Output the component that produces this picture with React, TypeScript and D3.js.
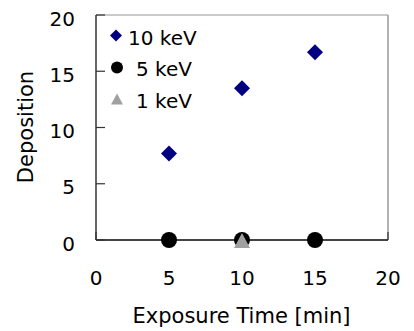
import React from 'react';
import * as d3 from 'd3';

const width = 414;
const height = 331;
const margins = { top: 15, bottom: 91, left: 96, right: 26 };

// exposure time [min]
const times10 = [5, 10, 15];
const dep10 = [7.7, 13.5, 16.7];
const times5 = [5, 10, 15];
const dep5 = [0, 0, 0];
const times1 = [10];
const dep1 = [0];
const ticks = [0, 5, 10, 15, 20];
const legendLabels = ['10 keV', '5 keV', '1 keV'];

const font = '"DejaVu Sans", sans-serif';

const diamond = (x: number, y: number, r: number) =>
  `M${x},${y - r}L${x + r},${y}L${x},${y + r}L${x - r},${y}Z`;
const triangle = (x: number, y: number, w: number, h: number) =>
  `M${x},${y - h / 2}L${x + w / 2},${y + h / 2}L${x - w / 2},${y + h / 2}Z`;

export default function App() {
  const xScale = d3.scaleLinear().domain([0, 20]).range([margins.left, width - margins.right]);
  const yScale = d3.scaleLinear().domain([0, 20]).range([height - margins.bottom, margins.top]);
  const x0 = xScale(0), x1 = xScale(20), y0 = yScale(0), y1 = yScale(20);

  return (
    <svg width={width} height={height} style={{ position: 'absolute', left: 0, top: 0, background: '#fff' }}>
      {/* frame */}
      <line x1={x0} y1={y1} x2={x1} y2={y1} stroke="#b8b8b8" strokeWidth={1.5} />
      <line x1={x1} y1={y1} x2={x1} y2={y0} stroke="#999" strokeWidth={1.5} />
      <line x1={x0} y1={y1} x2={x0} y2={y0} stroke="#000" strokeWidth={1.2} />
      <line x1={x0} y1={y0} x2={x1} y2={y0} stroke="#444" strokeWidth={2} />

      {ticks.map((t) => (
        <g key={'y' + t}>
          <line x1={x0} x2={x0 + 9} y1={yScale(t)} y2={yScale(t)} stroke="#333" strokeWidth={1.2} />
          <text x={75} y={yScale(t) + 10.5} textAnchor="end" fontFamily={font} fontSize={20} fill="#000">{t}</text>
        </g>
      ))}
      {ticks.map((t) => (
        <g key={'x' + t}>
          <line x1={xScale(t)} x2={xScale(t)} y1={y0} y2={y0 - 8} stroke="#333" strokeWidth={1.2} />
          <text x={xScale(t)} y={285} textAnchor="middle" fontFamily={font} fontSize={20} fill="#000">{t}</text>
        </g>
      ))}

      {/* series */}
      {times10.map((t, i) => (
        <path key={'a' + i} d={diamond(xScale(t), yScale(dep10[i]), 8)} fill="#000080" />
      ))}
      {times5.map((t, i) => (
        <circle key={'b' + i} cx={xScale(t)} cy={yScale(dep5[i])} r={8} fill="#000" />
      ))}
      {times1.map((t, i) => (
        <path key={'c' + i} d={triangle(xScale(t), yScale(dep1[i]) + 0.5, 16, 15)} fill="#a0a0a0" />
      ))}

      {/* legend */}
      <path d={diamond(116, 35.5, 6)} fill="#000080" />
      <circle cx={117} cy={67.5} r={6} fill="#000" />
      <path d={triangle(117, 99, 12, 11)} fill="#a0a0a0" />
      {legendLabels.map((l, i) => (
        <text key={l} x={i === 0 ? 128 : 136} y={45 + i * 31.25} fontFamily={font} fontSize={20} fill="#000">{l}</text>
      ))}

      <text x={241.5} y={323} textAnchor="middle" fontFamily={font} fontSize={21} fill="#000">Exposure Time [min]</text>
      <text transform={`translate(33,127) rotate(-90)`} textAnchor="middle" fontFamily={font} fontSize={21} fill="#000">Deposition</text>
    </svg>
  );
}
